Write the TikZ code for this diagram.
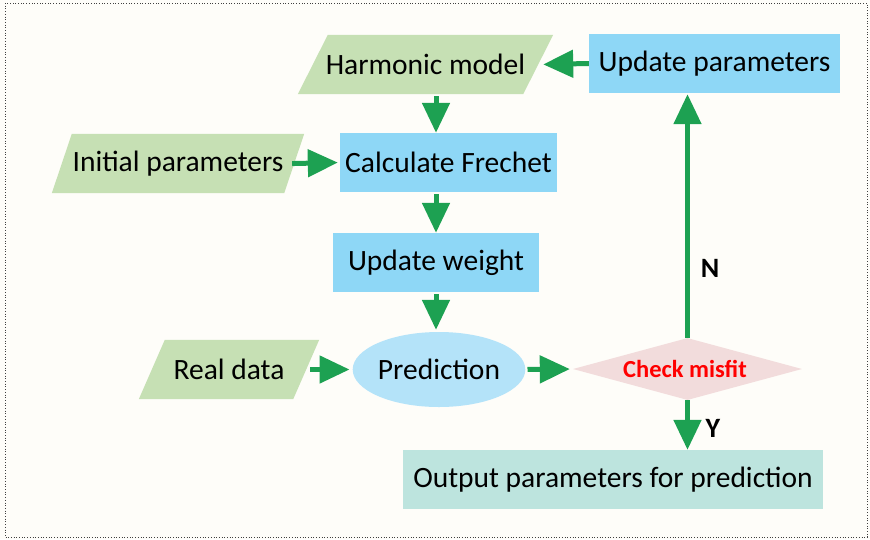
\documentclass[tikz,border=0pt]{standalone}
\usepackage{fontspec}
\setmainfont{Carlito}
\usetikzlibrary{arrows.meta,shapes.geometric,backgrounds}
\definecolor{pagebg}{HTML}{FEFDF9}
\definecolor{iogreen}{HTML}{C6E0B4}
\definecolor{procblue}{HTML}{8ED7F6}
\definecolor{predblue}{HTML}{B4E3F9}
\definecolor{decpink}{HTML}{F2DCDC}
\definecolor{outteal}{HTML}{BDE4DE}
\definecolor{flowgreen}{HTML}{1DA152}
\begin{document}
\begin{tikzpicture}[x=1pt,y=-1pt,
  every node/.style={font=\fontsize{29.5}{34}\selectfont, text=black},
  proc/.style={rectangle, fill=procblue, inner sep=0pt, minimum height=59pt},
  iobox/.style={rectangle, inner sep=0pt, minimum height=59pt},
  iofill/.style={fill=iogreen},
  flow/.style={draw=flowgreen, line width=5pt, -{Triangle[length=30pt,width=27pt]}},
  lbl/.style={font=\fontsize{28}{32}\selectfont\bfseries}
]
\useasboundingbox (0,0) rectangle (870,539);

% process boxes
\node[proc, minimum width=251pt] (upd) at (714.5,63.5) {Update parameters};
\node[proc, minimum width=217pt] (calc) at (448.5,162.5) {Calculate Frechet};
\node[proc, minimum width=206pt] (wgt) at (436,262.5) {Update weight};
\node[rectangle, fill=outteal, inner sep=0pt, minimum height=59pt, minimum width=420pt] (out) at (613,479.5) {Output parameters for prediction};

% input/output parallelograms (text part; the slanted fill is drawn behind)
\node[iobox, minimum width=225pt] (harm) at (425.5,64.5) {Harmonic model};
\node[iobox, minimum width=232pt] (init) at (178,163.5) {Initial parameters};
\node[iobox, minimum width=154pt] (real) at (229,369.5) {Real data};

% prediction and decision
\node[ellipse, fill=predblue, inner sep=0pt, minimum width=164pt, minimum height=75pt] (pred) at (439,369.5) {Prediction};
\node[diamond, fill=decpink, inner sep=0pt, aspect=3.7, minimum width=229pt, minimum height=62pt,
      font=\fontsize{24.5}{28}\selectfont\bfseries, text=red] (chk) at (687.5,369) {\hspace*{-5pt}Check misfit};

\begin{scope}[on background layer]
  \fill[pagebg] (0,0) rectangle (870,539);
  \draw[black!75, dotted, line width=0.7pt] (5,3) rectangle (867,537);
  \fill[iofill] ([xshift=15pt]harm.north west) -- ([xshift=15pt]harm.north east)
      -- ([xshift=-15pt]harm.south east) -- ([xshift=-15pt]harm.south west) -- cycle;
  \fill[iofill] ([xshift=10pt]init.north west) -- ([xshift=10pt]init.north east)
      -- ([xshift=-10pt]init.south east) -- ([xshift=-10pt]init.south west) -- cycle;
  \fill[iofill] ([xshift=13pt]real.north west) -- ([xshift=13pt]real.north east)
      -- ([xshift=-13pt]real.south east) -- ([xshift=-13pt]real.south west) -- cycle;
\end{scope}

% connectors
\draw[flow, shorten >=5pt] (upd.west) -- (harm.east);
\draw[flow, shorten <=2pt] (harm.south -| wgt) -- (calc.north -| wgt);
\draw[flow, shorten <=-2pt, shorten >=2pt] (init.east) -- (calc.west);
\draw[flow, shorten <=2pt] (calc.south -| wgt) -- (wgt.north);
\draw[flow, shorten <=2pt, shorten >=2pt] (wgt.south) -- (pred.north -| wgt);
\draw[flow, shorten <=4pt, shorten >=3pt] (real.east) -- (pred.west);
\draw[flow, shorten <=2pt, shorten >=3pt] (pred.east) -- (chk.west);
\draw[flow] (chk.south) -- (out.north -| chk);
\draw[flow, shorten >=1pt] (chk.north) -- (upd.south -| chk);

% branch labels
\node[lbl] (nlab) at (710,268) {N};
\node[lbl] (ylab) at (713,428) {Y};
\end{tikzpicture}
\end{document}
